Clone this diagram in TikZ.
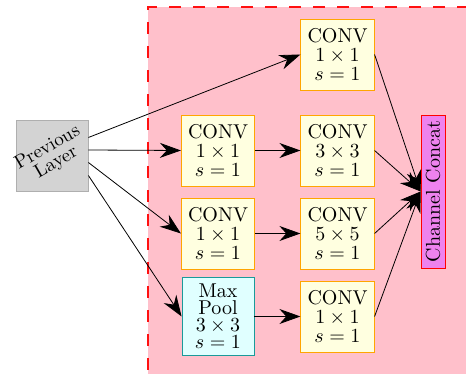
\documentclass[tikz,border=0pt]{standalone}
\usetikzlibrary{arrows.meta}

\definecolor{inpink}{HTML}{FFC0CB}
\definecolor{convfill}{HTML}{FFFFE0}
\definecolor{convline}{HTML}{FFA500}
\definecolor{poolfill}{HTML}{E0FFFF}
\definecolor{poolline}{HTML}{1A9A9A}
\definecolor{catfill}{HTML}{EE82EE}
\definecolor{prevfill}{HTML}{D3D3D3}
\definecolor{prevline}{HTML}{AFAFAF}
\definecolor{dashred}{HTML}{FF1010}

\tikzset{
  blk/.style = {minimum width=36pt, minimum height=35.5pt, align=center,
                font=\fontsize{10}{9.5}\selectfont},
  convbox/.style = {blk, draw=convline, fill=convfill},
  poolbox/.style = {blk, draw=poolline, fill=poolfill, font=\fontsize{10}{8.5}\selectfont},
  prevbox/.style = {blk, draw=prevline, fill=prevfill},
  prevtext/.style = {rotate=30, align=center, inner sep=0pt, font=\fontsize{9.5}{8.5}\selectfont},
  catbox/.style = {draw=red, fill=catfill, rotate=90, inner sep=2pt,
                   minimum width=76.5pt, minimum height=12pt},
  arr/.style = {-{Stealth[length=10.5pt,width=7.5pt]}}
}

\begin{document}
\begin{tikzpicture}[x=0.5pt,y=0.5pt]

\clip (0,0) rectangle (466,374) ;

% inception block
\fill[inpink] (147.5,366.5) rectangle (490,-20) ;
\draw[dashred, line width=1pt, dash pattern=on 6pt off 6pt] (147.5,-20) -- (147.5,366.5) -- (490,366.5) ;

\node[prevbox] (prev) at (52,218.5) {} ;
\node[prevtext] (prevlbl) at (prev.center) {Previous\\Layer} ;

\node[convbox] (c1a) at (218,223.5) {CONV\\$1\times1$\\$s=1$} ;
\node[convbox] (c1b) at (218,140.5) {CONV\\$1\times1$\\$s=1$} ;
\node[poolbox] (pool) at (218,57.5) {Max\\Pool\\$3\times3$\\$s=1$} ;

\node[convbox] (c2a) at (337.5,319.5) {CONV\\$1\times1$\\$s=1$} ;
\node[convbox] (c2b) at (337.5,223.5) {CONV\\$3\times3$\\$s=1$} ;
\node[convbox] (c2c) at (337.5,140.5) {CONV\\$5\times5$\\$s=1$} ;
\node[convbox] (c2d) at (337.5,57.5) {CONV\\$1\times1$\\$s=1$} ;

\node[catbox] (cat) at (433,182.5) {Channel Concat} ;

\draw[arr] ([yshift=9pt]prev.east) -- (c2a.west) ;
\draw[arr] ([yshift=2.75pt]prev.east) -- (c1a.west) ;
\draw[arr] ([yshift=-3.5pt]prev.east) -- (c1b.west) ;
\draw[arr] ([yshift=-10pt]prev.east) -- (pool.west) ;

\draw[arr] (c1a.east) -- (c2b.west) ;
\draw[arr] (c1b.east) -- (c2c.west) ;
\draw[arr] (pool.east) -- (c2d.west) ;

\draw[arr] (c2a.east) -- (cat.north) ;
\draw[arr] (c2b.east) -- (cat.north) ;
\draw[arr] (c2c.east) -- (cat.north) ;
\draw[arr] (c2d.east) -- (cat.north) ;

\end{tikzpicture}
\end{document}
